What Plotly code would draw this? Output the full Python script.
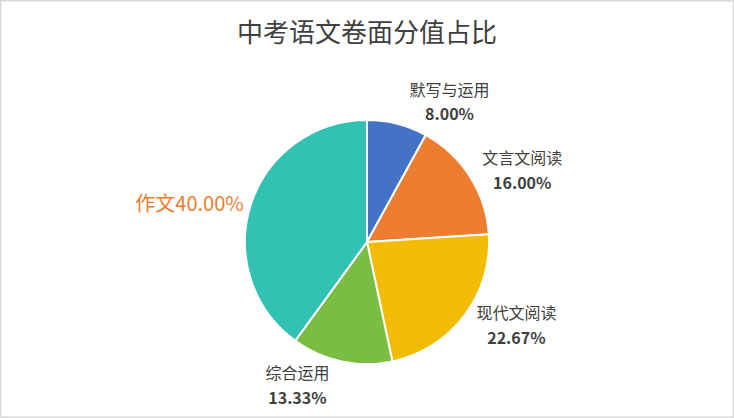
import plotly.graph_objects as go

labels = ["默写与运用", "文言文阅读", "现代文阅读", "综合运用", "作文"]
scores = [12, 24, 34, 20, 60]
colors = ["#4472C4", "#ED7D31", "#F2BC05", "#79BD43", "#31C2B3"]
label_colors = ["#404040", "#404040", "#404040", "#404040", "#ED7D31"]
label_sizes = [19, 19, 19, 19, 20]

# base size sets the line gap, the span keeps the glyphs a bit smaller
two_line = ("<span style='font-size:16px'>%{label}</span><br>"
            "<span style='font-size:16px'><b>%{percent:.2%}</b></span>")
templates = [two_line] * 4 + ["%{label}%{percent:.2%}"]

fig = go.Figure()
fig.add_trace(go.Pie(
    labels=labels,
    values=scores,
    sort=False,
    direction="clockwise",
    rotation=0,
    marker=dict(colors=colors, line=dict(color="white", width=2)),
    texttemplate=templates,
    textposition="outside",
    textfont=dict(color=label_colors, size=label_sizes, family="Noto Sans CJK SC"),
    hoverinfo="label+percent",
    domain=dict(x=[0.2, 0.8], y=[0.129, 0.713]),
    showlegend=False,
))

fig.update_layout(
    width=734,
    height=418,
    margin=dict(l=0, r=0, t=0, b=0, autoexpand=False),
    paper_bgcolor="white",
    title=dict(
        text="中考语文卷面分值占比",
        x=0.5,
        xanchor="center",
        y=0.921,
        yanchor="middle",
        font=dict(family="Noto Sans CJK SC", size=26, color="#404040"),
    ),
    font=dict(family="Noto Sans CJK SC", color="#404040"),
    shapes=[dict(type="rect", xref="paper", yref="paper", x0=0, y0=0, x1=1, y1=1,
                 line=dict(color="#D9D9D9", width=3))],
)

# page has a default 8px body margin; drop it so the chart sits at the corner
fig.write_html("out.html", config={"displayModeBar": False},
               post_script="document.body.style.margin='0';")
